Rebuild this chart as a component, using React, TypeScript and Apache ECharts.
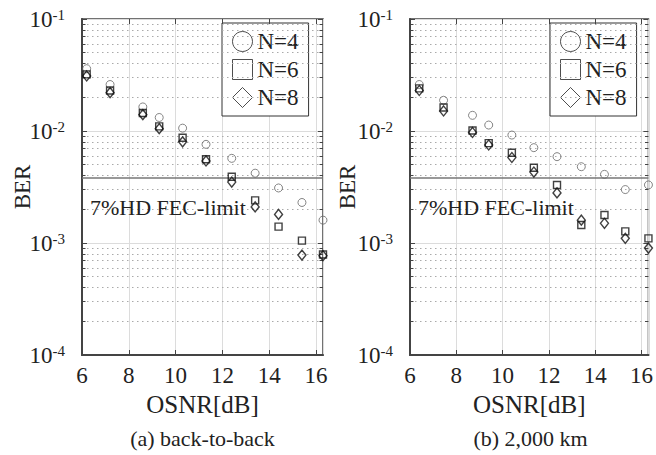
import React, { useEffect, useRef } from 'react';
import * as echarts from 'echarts';

const seriesNames = ['N=4', 'N=6', 'N=8'];
const xTicks = [6, 8, 10, 12, 14, 16];
const yDecades = [-4, -3, -2, -1];
const fecLimit = 0.0038;

const osnrA = [6.2, 7.2, 8.6, 9.3, 10.3, 11.3, 12.4, 13.4, 14.4, 15.4, 16.3];
const berA4 = [0.036, 0.026, 0.0164, 0.0132, 0.0106, 0.0076, 0.0057, 0.0042, 0.0031, 0.0023, 0.0016];
const berA6 = [0.032, 0.023, 0.0145, 0.011, 0.0087, 0.0056, 0.0039, 0.0024, 0.0014, 0.00105, 0.00079];
const berA8 = [0.031, 0.022, 0.014, 0.0105, 0.008, 0.0054, 0.0035, 0.0021, 0.0018, 0.00078, 0.00077];

const osnrB = [6.4, 7.45, 8.7, 9.4, 10.4, 11.35, 12.35, 13.4, 14.4, 15.3, 16.3];
const berB4 = [0.026, 0.0188, 0.0138, 0.0113, 0.0092, 0.0071, 0.0059, 0.0048, 0.0041, 0.003, 0.0033];
const berB6 = [0.024, 0.0162, 0.0101, 0.0078, 0.0064, 0.0047, 0.0033, 0.00145, 0.00178, 0.00127, 0.0011];
const berB8 = [0.023, 0.0151, 0.0097, 0.0075, 0.0058, 0.0043, 0.0028, 0.0016, 0.0015, 0.0011, 0.0009];

const captions = ['(a) back-to-back', '(b) 2,000 km'];
const fecText = '7%HD FEC-limit';

const FONT = 'Liberation Serif';
const TXT = '#222';

const X_MIN = 6;
const X_MAX = 16.3;
const Y_MIN = 1e-4;
const Y_MAX = 1e-1;

const grids = [
  { left: 82, top: 19, width: 241, height: 336 },
  { left: 410, top: 19, width: 241, height: 336 },
];
const berNameGaps = [48, 51];

function pairs(xs: number[], ys: number[]) {
  return xs.map((x, i) => [x, ys[i]]);
}

function minorValues() {
  const out: number[] = [];
  for (let d = -4; d < -1; d++) {
    for (let k = 2; k <= 9; k++) out.push(k * Math.pow(10, d));
  }
  return out;
}

const markerStyles = [
  { symbol: 'circle', size: 8, color: '#666', width: 1 },
  { symbol: 'rect', size: 7, color: '#111', width: 1.4 },
  { symbol: 'diamond', size: [8, 10], color: '#111', width: 1.4 },
];

function buildOption() {
  const xAxis: any[] = [];
  const yAxis: any[] = [];
  const series: any[] = [];
  const legend: any[] = [];
  const minors = minorValues();
  const data = [
    [berA4, berA6, berA8],
    [berB4, berB6, berB8],
  ];
  const osnr = [osnrA, osnrB];

  grids.forEach((g, gi) => {
    xAxis.push({
      type: 'value',
      gridIndex: gi,
      min: X_MIN,
      max: X_MAX,
      interval: 2,
      name: 'OSNR[dB]',
      nameLocation: 'middle',
      nameGap: 37,
      nameMoveOverlap: false,
      nameTextStyle: { fontFamily: FONT, fontSize: 25, color: TXT },
      axisLine: { show: true, lineStyle: { color: '#444', width: 2 } },
      axisTick: { show: true, inside: true, length: 5, lineStyle: { color: '#444' } },
      axisLabel: {
        fontFamily: FONT,
        fontSize: 23,
        color: TXT,
        margin: 9,
        showMaxLabel: false,
        formatter: (v: number) => (xTicks.indexOf(v) >= 0 ? String(v) : ''),
      },
      splitLine: { show: true, lineStyle: { color: '#dcdcdc', width: 1 } },
    });
    yAxis.push({
      type: 'log',
      logBase: 10,
      gridIndex: gi,
      min: Y_MIN,
      max: Y_MAX,
      splitNumber: 3,
      name: 'BER',
      nameLocation: 'middle',
      nameGap: berNameGaps[gi],
      nameMoveOverlap: false,
      nameTextStyle: { fontFamily: FONT, fontSize: 23, color: TXT },
      axisLine: { show: true, lineStyle: { color: '#444', width: 2 } },
      axisTick: { show: true, inside: true, length: 5, lineStyle: { color: '#444' } },
      axisLabel: {
        margin: 17,
        formatter: (v: number) => {
          const e = Math.round(Math.log10(v));
          return yDecades.indexOf(e) >= 0 ? `{b|10}{s|${e}}` : '';
        },
        rich: {
          b: { fontFamily: FONT, fontSize: 23, color: TXT },
          s: { fontFamily: FONT, fontSize: 15, color: TXT, verticalAlign: 'top' },
        },
      },
      splitLine: { show: true, lineStyle: { color: '#dcdcdc', width: 1 } },
    });

    const minorTicks: any[] = [];
    minors.forEach((v) => {
      minorTicks.push([{ coord: [X_MIN, v] }, { coord: [X_MIN + 0.15, v] }]);
      minorTicks.push([{ coord: [X_MAX - 0.15, v] }, { coord: [X_MAX, v] }]);
    });
    yDecades.forEach((d) => {
      const v = Math.pow(10, d);
      minorTicks.push([{ coord: [X_MAX - 0.22, v] }, { coord: [X_MAX, v] }]);
    });
    xTicks.forEach((x) => {
      minorTicks.push([{ coord: [x, Y_MAX] }, { coord: [x, Y_MAX * 0.9] }]);
    });

    series.push({
      type: 'line',
      name: 'minor-' + gi,
      xAxisIndex: gi,
      yAxisIndex: gi,
      data: [],
      silent: true,
      z: 1,
      markLine: {
        silent: true,
        precision: 12,
        symbol: ['none', 'none'],
        label: { show: false },
        animation: false,
        lineStyle: { type: [1.5, 3.5], color: '#aaa', width: 1 },
        data: minors.map((v) => ({ yAxis: v })),
      },
    });
    series.push({
      type: 'line',
      name: 'ticks-' + gi,
      xAxisIndex: gi,
      yAxisIndex: gi,
      data: [],
      silent: true,
      z: 2,
      markLine: {
        silent: true,
        precision: 12,
        symbol: ['none', 'none'],
        label: { show: false },
        animation: false,
        lineStyle: { type: 'solid', color: '#444', width: 1 },
        data: minorTicks,
      },
    });
    series.push({
      type: 'line',
      name: 'fec-' + gi,
      xAxisIndex: gi,
      yAxisIndex: gi,
      data: [],
      silent: true,
      z: 3,
      markLine: {
        silent: true,
        precision: 12,
        symbol: ['none', 'none'],
        label: { show: false },
        animation: false,
        lineStyle: { type: 'solid', color: '#777', width: 1.5 },
        data: [{ yAxis: fecLimit }],
      },
    });

    seriesNames.forEach((name, si) => {
      const m = markerStyles[si];
      series.push({
        type: 'scatter',
        name,
        xAxisIndex: gi,
        yAxisIndex: gi,
        symbol: m.symbol,
        symbolSize: m.size,
        z: 10 + si,
        itemStyle: { color: 'rgba(0,0,0,0)', borderColor: m.color, borderWidth: m.width },
        data: pairs(osnr[gi], data[gi][si]),
      });
    });

    legend.push({
      orient: 'vertical',
      left: g.left + 140,
      top: g.top + 4,
      itemWidth: 20,
      itemHeight: 20,
      itemGap: 5,
      padding: [7, 10, 7, 10],
      borderColor: '#333',
      borderWidth: 1,
      backgroundColor: '#fff',
      selectedMode: false,
      textStyle: { fontFamily: FONT, fontSize: 23, color: TXT },
      data: seriesNames.map((name, si) => ({
        name,
        icon: markerStyles[si].symbol,
        itemStyle: { color: 'rgba(0,0,0,0)', borderColor: '#222', borderWidth: 1 },
      })),
    });
  });

  const graphic: any[] = [];
  grids.forEach((g, gi) => {
    graphic.push({
      type: 'text',
      left: g.left + 8,
      top: 196,
      z: 50,
      style: { text: fecText, fontFamily: FONT, fontSize: 22, fill: TXT },
    });
    graphic.push({
      type: 'text',
      x: g.left + g.width / 2,
      y: 438,
      style: {
        text: captions[gi],
        fontFamily: FONT,
        fontSize: 22,
        fill: TXT,
        textAlign: 'center',
        textVerticalAlign: 'middle',
      },
    });
  });

  return {
    animation: false,
    backgroundColor: '#fff',
    grid: grids.map((g) => ({
      ...g,
      show: true,
      borderColor: '#444',
      borderWidth: 1.5,
      backgroundColor: 'transparent',
    })),
    xAxis,
    yAxis,
    legend,
    series,
    graphic,
  };
}

export default function App() {
  const ref = useRef<HTMLDivElement>(null);
  useEffect(() => {
    if (!ref.current) return;
    const chart = echarts.init(ref.current, null, { renderer: 'svg' });
    chart.setOption(buildOption() as any);
    return () => chart.dispose();
  }, []);
  return (
    <div
      ref={ref}
      style={{ position: 'absolute', left: 0, top: 0, width: 656, height: 455 }}
    />
  );
}
